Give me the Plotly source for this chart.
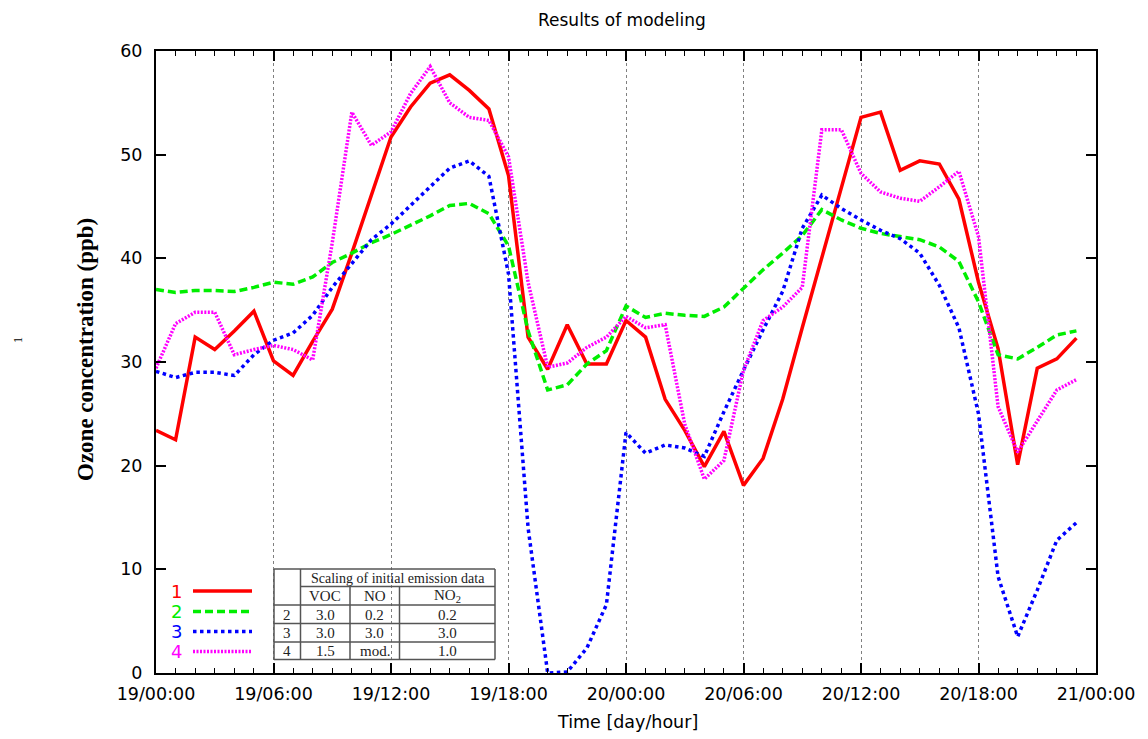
import plotly.graph_objects as go

# ---------------- data (hourly values, hour 0 = 19/00:00) ----------------
hours = list(range(48))
series_names = ["1", "2", "3", "4"]

ozone_1 = [23.4, 22.5, 32.4, 31.2, 33.0, 34.9, 30.1, 28.7, 32.0, 35.1,
           40.5, 46.1, 51.7, 54.6, 56.9, 57.7, 56.2, 54.4, 48.0, 32.4,
           29.3, 33.6, 29.8, 29.8, 34.0, 32.4, 26.4, 23.4, 19.9, 23.3,
           18.1, 20.7, 26.4, 33.3, 40.0, 46.9, 53.6, 54.1, 48.5, 49.4,
           49.1, 45.7, 37.7, 31.3, 20.1, 29.4, 30.3, 32.3]
ozone_2 = [37.0, 36.7, 36.9, 36.9, 36.8, 37.2, 37.7, 37.5, 38.2, 39.6,
           40.5, 41.5, 42.3, 43.2, 44.1, 45.1, 45.3, 44.3, 41.2, 33.0,
           27.3, 27.8, 29.8, 31.1, 35.4, 34.3, 34.7, 34.5, 34.4, 35.3,
           37.1, 38.9, 40.5, 42.2, 44.7, 43.7, 42.9, 42.4, 42.1, 41.8,
           41.1, 39.7, 35.8, 30.7, 30.3, 31.4, 32.6, 33.0]
ozone_3 = [29.1, 28.5, 29.0, 29.0, 28.7, 30.7, 32.1, 32.8, 34.5, 37.2,
           39.5, 41.8, 43.3, 45.1, 46.9, 48.7, 49.4, 47.9, 38.5, 14.0,
           0.0, 0.1, 2.4, 6.6, 23.2, 21.2, 22.0, 21.7, 20.9, 25.2,
           29.2, 33.1, 36.8, 42.9, 46.1, 44.8, 43.7, 42.7, 41.9, 40.5,
           37.4, 33.3, 25.0, 9.3, 3.5, 8.0, 12.8, 14.5]
ozone_4 = [29.4, 33.7, 34.8, 34.8, 30.7, 31.2, 31.6, 31.2, 30.2, 41.5,
           54.1, 50.9, 52.2, 55.9, 58.5, 55.0, 53.6, 53.3, 49.8, 37.7,
           29.5, 29.9, 31.4, 32.4, 34.4, 33.3, 33.6, 24.0, 18.7, 20.5,
           29.2, 34.0, 35.3, 37.2, 52.4, 52.4, 48.2, 46.4, 45.8, 45.5,
           46.9, 48.4, 42.1, 25.7, 21.3, 24.3, 27.3, 28.3]

tick_hours = [0, 6, 12, 18, 24, 30, 36, 42, 48]
tick_labels = ["19/00:00", "19/06:00", "19/12:00", "19/18:00", "20/00:00",
               "20/06:00", "20/12:00", "20/18:00", "21/00:00"]

table_header = "Scaling of initial emission data"
table_cols = ["VOC", "NO", "NO<sub>2</sub>"]
table_rows = [["2", "3.0", "0.2", "0.2"],
              ["3", "3.0", "3.0", "3.0"],
              ["4", "1.5", "mod.", "1.0"]]

# ---------------- styles ----------------
colors = ["#ff0000", "#00ee00", "#0000ff", "#ff00ff"]
dashes = ["solid", "8px,4px", "3.5px,3.5px", "2px,1.5px"]
widths = [3.5, 3.5, 3.5, 3.5]

W, H = 1148, 739
ML, MT = 156, 51
PW, PH = 940, 622
MR = W - ML - PW
MB = H - MT - PH


def px(x):
    return (x - ML) / PW


def py(y):
    return (MT + PH - y) / PH


fig = go.Figure()
for name, vals, c, d, w in zip(series_names, [ozone_1, ozone_2, ozone_3, ozone_4],
                               colors, dashes, widths):
    fig.add_trace(go.Scatter(x=hours, y=vals, mode="lines", name=name,
                             line=dict(color=c, dash=d, width=w),
                             showlegend=False, hoverinfo="skip"))

tickfont = dict(family="DejaVu Sans", size=17.5, color="black")

fig.update_layout(
    width=W, height=H,
    margin=dict(l=ML, r=MR, t=MT, b=MB),
    plot_bgcolor="white", paper_bgcolor="white",
    xaxis=dict(range=[0, 48], tickmode="array", tickvals=tick_hours,
               ticktext=tick_labels, ticks="inside", ticklen=10, tickwidth=1.5,
               tickcolor="black", showline=True, linewidth=2, linecolor="black",
               mirror="ticks", showgrid=True, gridcolor="#808080", gridwidth=1,
               griddash="dot", zeroline=False, tickfont=tickfont,
               ticklabelstandoff=4,
               minor=dict(dtick=1, tick0=0, ticks="inside", ticklen=5,
                          tickwidth=1.2, tickcolor="black", showgrid=False)),
    yaxis=dict(range=[0, 60], dtick=10, ticks="inside", ticklen=10, tickwidth=1.5,
               tickcolor="black", showline=True, linewidth=2, linecolor="black",
               mirror="ticks", showgrid=False, zeroline=False, tickfont=tickfont,
               ticklabelstandoff=8),
)

ann = []
# title
ann.append(dict(text="Results of modeling", x=px(622), y=py(20), xref="paper", yref="paper",
                showarrow=False, font=dict(family="DejaVu Sans", size=17, color="black"),
                xanchor="center", yanchor="middle"))
# x axis title
ann.append(dict(text="Time [day/hour]", x=px(627), y=py(722), xref="paper", yref="paper",
                showarrow=False, font=dict(family="DejaVu Sans", size=17.5, color="black"),
                xanchor="center", yanchor="middle"))
# y axis title
ann.append(dict(text="<b>Ozone concentration (ppb)</b>", x=px(85), y=py(350),
                xref="paper", yref="paper", showarrow=False, textangle=-90,
                font=dict(family="Liberation Serif", size=23, color="black"),
                xanchor="center", yanchor="middle"))
# small stray mark on the left
ann.append(dict(text="1", x=px(18), y=py(340), xref="paper", yref="paper",
                showarrow=False, textangle=-90,
                font=dict(family="Liberation Serif", size=12, color="#000000"),
                xanchor="center", yanchor="middle"))

shapes = []
# custom legend
leg_y = [591, 611.5, 631.5, 651.5]
for name, c, d, w, yy in zip(series_names, colors, dashes, widths, leg_y):
    ann.append(dict(text=name, x=px(176), y=py(yy), xref="paper", yref="paper",
                    showarrow=False, font=dict(family="DejaVu Sans", size=18, color=c),
                    xanchor="center", yanchor="middle"))
    shapes.append(dict(type="line", xref="paper", yref="paper",
                       x0=px(193), x1=px(252), y0=py(yy), y1=py(yy),
                       line=dict(color=c, dash=d, width=w)))

# table
tx = [274, 300.5, 350, 399.5, 495]
ty = [569, 586.5, 605, 623.5, 642, 659.5]
lc = dict(color="#555555", width=1.5)


def seg(x0, y0, x1, y1):
    shapes.append(dict(type="line", xref="paper", yref="paper",
                       x0=px(x0), x1=px(x1), y0=py(y0), y1=py(y1), line=lc))


# outer box
seg(tx[0], ty[0], tx[-1], ty[0])
seg(tx[0], ty[-1], tx[-1], ty[-1])
seg(tx[0], ty[0], tx[0], ty[-1])
seg(tx[-1], ty[0], tx[-1], ty[-1])
# first column separator
seg(tx[1], ty[0], tx[1], ty[-1])
# header inner line
seg(tx[1], ty[1], tx[-1], ty[1])
# row lines
for r in ty[2:-1]:
    seg(tx[0], r, tx[-1], r)
# column separators below header
for cx in tx[2:4]:
    seg(cx, ty[1], cx, ty[-1])

serif = "Liberation Serif"
ann.append(dict(text=table_header, x=px((tx[1] + tx[-1]) / 2), y=py((ty[0] + ty[1]) / 2 + 0.5),
                xref="paper", yref="paper", showarrow=False,
                font=dict(family=serif, size=14, color="#222"),
                xanchor="center", yanchor="middle"))
for j, t in enumerate(table_cols):
    ann.append(dict(text=t, x=px((tx[j + 1] + tx[j + 2]) / 2), y=py((ty[1] + ty[2]) / 2 + 0.5),
                    xref="paper", yref="paper", showarrow=False,
                    font=dict(family=serif, size=15, color="#222"),
                    xanchor="center", yanchor="middle"))
for i, row in enumerate(table_rows):
    for j, t in enumerate(row):
        ann.append(dict(text=t, x=px((tx[j] + tx[j + 1]) / 2), y=py((ty[i + 2] + ty[i + 3]) / 2 + 0.5),
                        xref="paper", yref="paper", showarrow=False,
                        font=dict(family=serif, size=15, color="#222"),
                        xanchor="center", yanchor="middle"))

fig.update_layout(annotations=ann, shapes=shapes)
fig.write_html(
    "out.html",
    config={"displayModeBar": False},
    post_script="document.body.style.margin='0';document.body.style.overflow='hidden';",
)
